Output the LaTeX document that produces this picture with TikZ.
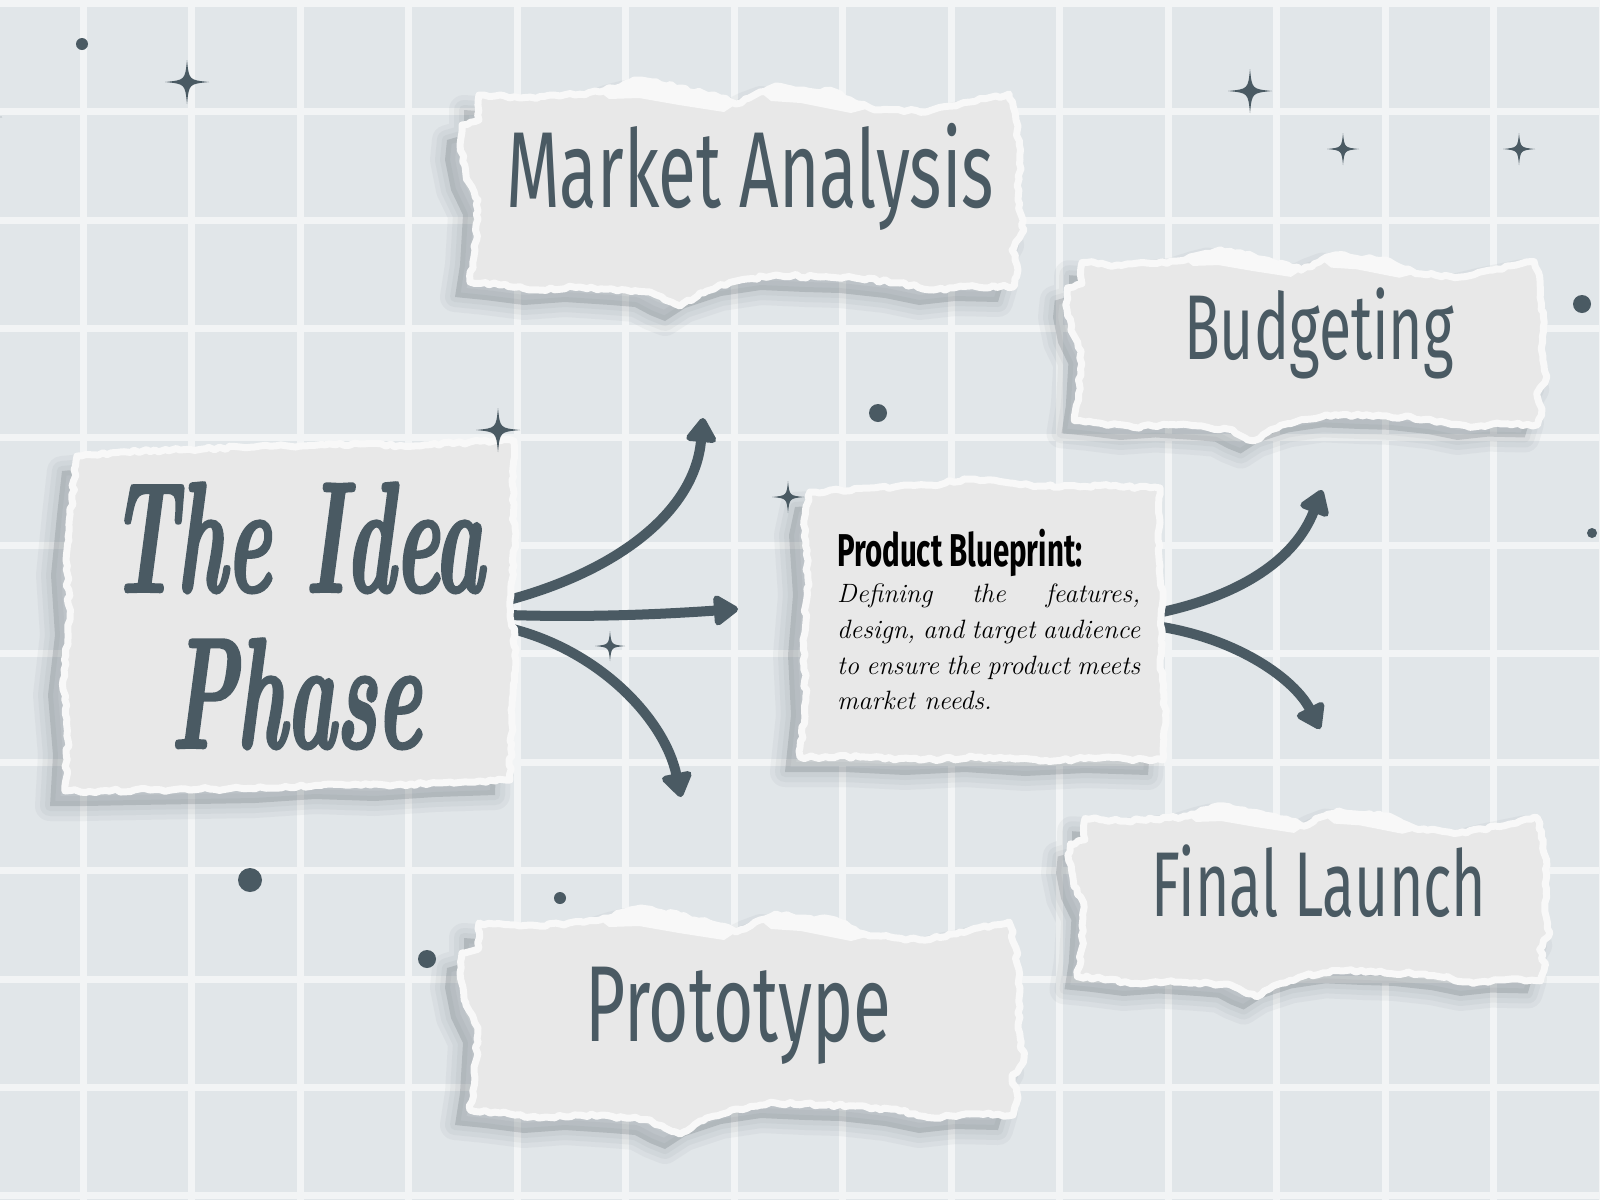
\documentclass[tikz,border=0pt]{standalone}
\usepackage{fontspec}
\usetikzlibrary{arrows.meta,decorations.pathmorphing,calc}
\newfontfamily\handfont[FakeStretch=0.64]{Fira Sans}
\newfontfamily\brushfont{lmroman10}[Extension=.otf, UprightFont=*-regular, BoldFont=*-bold, ItalicFont=*-italic, BoldItalicFont=*-bolditalic, FakeStretch=0.53, FakeBold=1.6]
\definecolor{bgc}{HTML}{E1E6E9}
\definecolor{gridc}{HTML}{F2F4F5}
\definecolor{ink}{HTML}{4A5A63}
\definecolor{paperc}{HTML}{E8E8E8}
\definecolor{paperedge}{HTML}{F8F8F8}
\definecolor{shadowc}{HTML}{4F5960}

\def\stripoutline{(0,3) -- (41,6) -- (81,4) -- (121,0) -- (146,-8) -- (162,-12) -- (201,-4) -- (241,6) -- (257,12) -- (281,0) -- (297,-6) -- (321,-2) -- (356,0) -- (371,8) -- (391,16) -- (447,20) -- (481,12) -- (530,2) -- (537,28) -- (541,68) -- (539,108) -- (545,138) -- (533,158) -- (539,178) -- (534,195) -- (491,194) -- (455,198) -- (421,191) -- (376,186) -- (341,185) -- (297,183) -- (257,189) -- (221,201) -- (201,214) -- (186,208) -- (171,200) -- (147,198) -- (101,195) -- (60,198) -- (21,193) -- (-9,190) -- (-4,158) -- (-1,108) -- (-13,83) -- (-19,53) -- (-17,33) -- (0,28) -- cycle}
\def\stripflaps{(121,0) -- (146,-8) -- (162,-12) -- (201,-4) -- (241,6) -- (257,12) -- (245,20) -- (200,13) -- (160,6) -- (130,7) -- cycle (281,0) -- (297,-6) -- (321,-2) -- (356,0) -- (371,8) -- (391,16) -- (372,21) -- (322,11) -- (292,9) -- cycle}
\def\ideaoutline{(77,456) -- (120,452) -- (180,450) -- (240,447) -- (300,446) -- (360,444) -- (420,446) -- (470,442) -- (514,441) -- (512,480) -- (515,540) -- (510,600) -- (516,660) -- (512,720) -- (510,780) -- (450,782) -- (390,786) -- (330,784) -- (270,788) -- (210,789) -- (150,790) -- (100,791) -- (65,791) -- (68,740) -- (63,680) -- (70,620) -- (66,560) -- (72,500) -- cycle}
\def\bpoutline{(810,492) -- (870,488) -- (930,485) -- (970,479) -- (1010,483) -- (1060,487) -- (1110,486) -- (1160,488) -- (1158,540) -- (1163,600) -- (1160,660) -- (1166,720) -- (1163,760) -- (1100,758) -- (1040,761) -- (980,757) -- (920,760) -- (860,757) -- (800,757) -- (806,700) -- (803,640) -- (808,580) -- (804,520) -- cycle}

\newcommand\papershadow[1]{%
  \begin{scope}[shift={(-15,15)}]
    \foreach \w in {30,20,10} {\draw[shadowc, opacity=0.05, line width=\w, line join=round] #1;}
    \fill[shadowc, opacity=0.2] #1;
  \end{scope}}
\newcommand\paperbody[1]{%
  \filldraw[fill=paperc, draw=paperedge, line width=7, line join=round, decorate, decoration={random steps, segment length=5, amplitude=1.6}] #1;}

\tikzset{
  flow/.style={ink, line width=10, -{Triangle[length=27pt, width=34pt, round]}},
  sparkle/.pic={\fill[ink] (0,-1) .. controls (0.09,-0.09) .. (1,0) .. controls (0.09,0.09) .. (0,1) .. controls (-0.09,0.09) .. (-1,0) .. controls (-0.09,-0.09) .. cycle;},
  holder/.style={inner sep=0, draw=none},
  bigtitle/.style={ink, inner sep=0, anchor=base, font=\handfont\fontsize{108}{108}\selectfont},
  midtitle/.style={ink, inner sep=0, anchor=base, font=\handfont\fontsize{92}{92}\selectfont},
  brush/.style={ink, inner sep=0, anchor=base, font=\brushfont\bfseries\itshape\fontsize{158}{158}\selectfont}
}

\begin{document}
\begin{tikzpicture}[x=1pt, y=-1pt]
\useasboundingbox (0,0) rectangle (1600,1200);
\clip (0,0) rectangle (1600,1200);
\fill[bgc] (0,0) rectangle (1600,1200);
\foreach \i in {0,...,14} \draw[gridc, line width=7] ({83+108.5*\i},0) -- ({83+108.5*\i},1200);
\foreach \j in {0,...,11} \draw[gridc, line width=7] (0,{3.5+108.4*\j}) -- (1600,{3.5+108.4*\j});

% shadows
\pgfmathsetseed{7}
\begin{scope}[shift={(479,92)}] \papershadow{\stripoutline} \end{scope}
\begin{scope}[shift={(479,920)}] \papershadow{\stripoutline} \end{scope}
\begin{scope}[shift={(1082,260)}, xscale=0.853, yscale=0.845] \papershadow{\stripoutline} \end{scope}
\begin{scope}[shift={(1085,816)}, xscale=0.853, yscale=0.845] \papershadow{\stripoutline} \end{scope}
\papershadow{\ideaoutline}
\papershadow{\bpoutline}

% holder nodes
\node[holder, minimum width=445pt, minimum height=350pt] (idea) at (290,615) {};
\node[holder, minimum width=360pt, minimum height=280pt] (bp) at (983,622) {};
\node[holder, minimum width=540pt, minimum height=200pt] (market) at (745,195) {};
\node[holder, minimum width=540pt, minimum height=200pt] (proto) at (745,1022) {};
\node[holder, minimum width=460pt, minimum height=170pt] (budget) at (1310,345) {};
\node[holder, minimum width=460pt, minimum height=170pt] (final) at (1312,902) {};

\coordinate (tipMA) at (703,418);
\coordinate (tipBP) at (738,609);
\coordinate (tipPR) at (681,797);
\coordinate (tipBU) at (1322,490);
\coordinate (tipFL) at (1320,729);

% arrows
\draw[flow] ($(idea.east)+(-4,-15)$) .. controls (620,570) and (695,510) .. (tipMA);
\draw[flow] ($(idea.east)+(-4,0)$) .. controls (600,618) and (680,613) .. (tipBP);
\draw[flow] ($(idea.east)+(-4,13)$) .. controls (600,650) and (665,720) .. (tipPR);
\draw[flow] ($(bp.east)+(-1,-10)$) .. controls (1240,595) and (1295,560) .. (tipBU);
\draw[flow] ($(bp.east)+(-1,5)$) .. controls (1240,640) and (1295,680) .. (tipFL);

% papers
\begin{scope}[shift={(479,92)}] \paperbody{\stripoutline} \fill[paperedge] \stripflaps; \end{scope}
\begin{scope}[shift={(479,920)}] \paperbody{\stripoutline} \fill[paperedge] \stripflaps; \end{scope}
\begin{scope}[shift={(1082,260)}, xscale=0.853, yscale=0.845] \paperbody{\stripoutline} \fill[paperedge] \stripflaps; \end{scope}
\begin{scope}[shift={(1085,816)}, xscale=0.853, yscale=0.845] \paperbody{\stripoutline} \fill[paperedge] \stripflaps; \end{scope}
\paperbody{\ideaoutline}
\paperbody{\bpoutline}

% texts
\node[bigtitle] (marketT) at (750,207) {Market Analysis};
\node[bigtitle] (protoT) at (738,1041) {Prototype};
\node[midtitle] (budgetT) at (1319,359) {Budgeting};
\node[midtitle] (finalT) at (1319,916) {Final Launch};
\node[brush] (ideaT1) at (297,592) {The Idea};
\node[brush] (ideaT2) at (296,748) {Phase};
\node[inner sep=0, anchor=base west, font=\handfont\bfseries\fontsize{46}{46}\selectfont] (bpT) at (837,566) {Product Blueprint:};
\node[anchor=north west, inner sep=0, text width=303pt, align=justify, font=\itshape\fontsize{26.5}{35.7}\selectfont] (bpBody) at (837,584) {Defining the features,\linebreak design, and target audience\linebreak to ensure the product meets\linebreak market needs.};

% sparkles and dots
\pic[scale=22] at (187,82) {sparkle};
\pic[scale=20] at (-18,117) {sparkle};
\pic[scale=22] at (498,430) {sparkle};
\pic[scale=15] at (610,646) {sparkle};
\pic[scale=16] at (788,497) {sparkle};
\pic[scale=22] at (1250,91) {sparkle};
\pic[scale=16] at (1343,149) {sparkle};
\pic[scale=16] at (1519,149) {sparkle};
\fill[ink] (82,44) circle[radius=6];
\fill[ink] (878,413) circle[radius=9];
\fill[ink] (1582,304) circle[radius=9];
\fill[ink] (1592,533) circle[radius=5];
\fill[ink] (250,880) circle[radius=12];
\fill[ink] (560,898) circle[radius=6];
\fill[ink] (427,959) circle[radius=9];
\end{tikzpicture}
\end{document}
